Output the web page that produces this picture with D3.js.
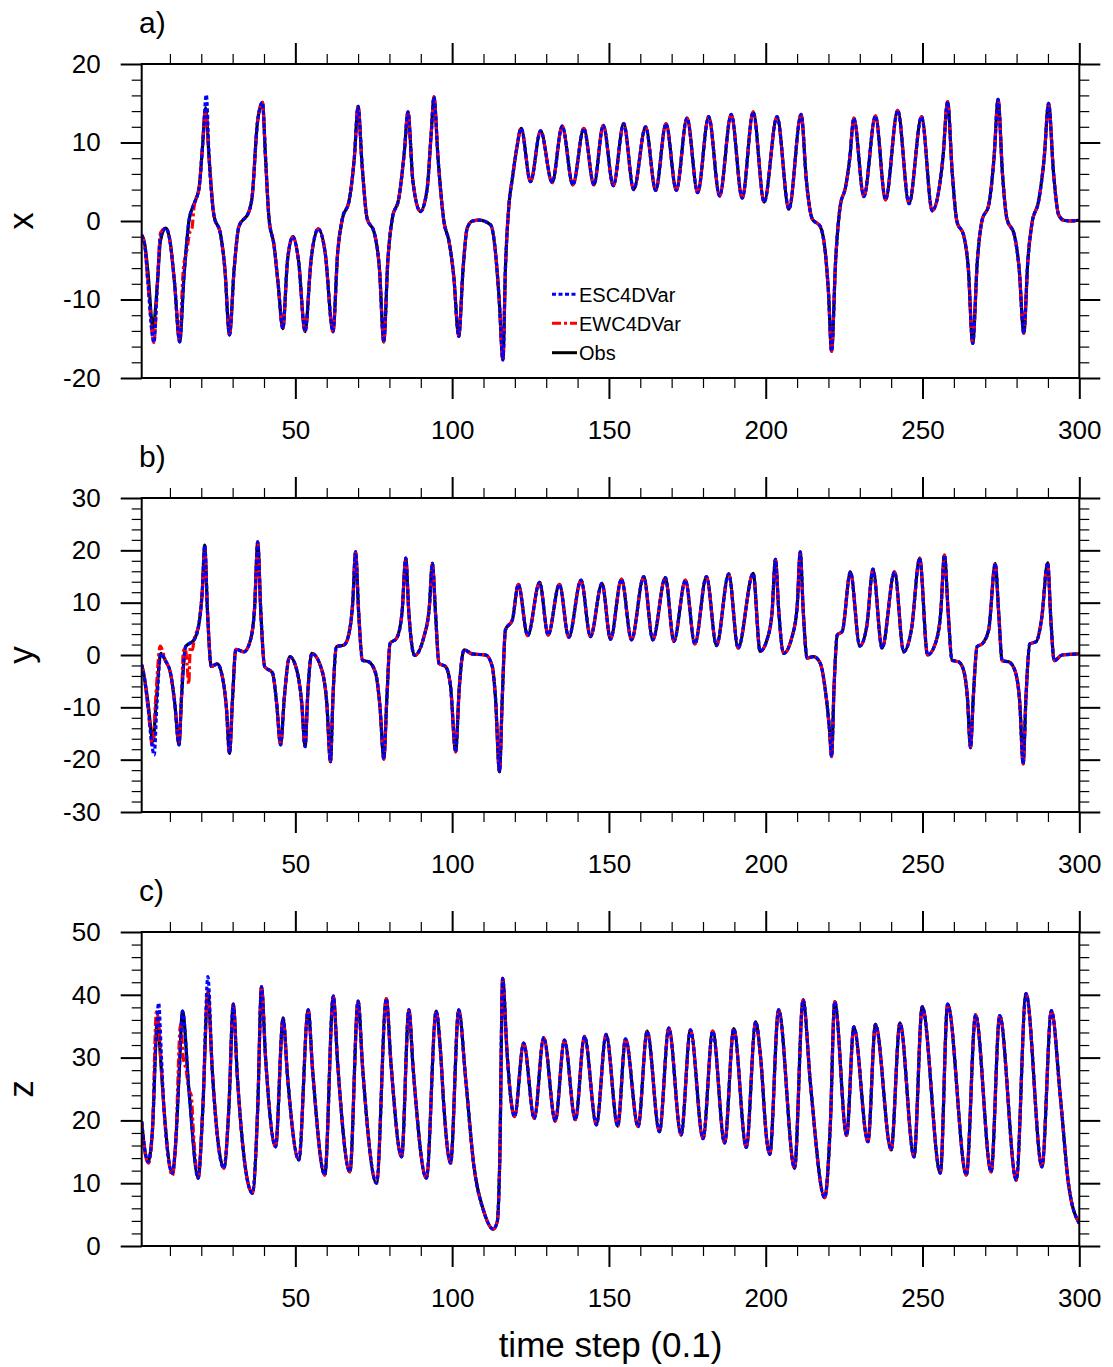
<!DOCTYPE html>
<html>
<head>
<meta charset="utf-8">
<script src="https://cdn.jsdelivr.net/npm/d3@7"></script>
<style>
  html, body { margin: 0; padding: 0; background: #fff; }
  svg { display: block; font-family: "Liberation Sans", Arial, Helvetica, sans-serif; }
</style>
</head>
<body>
<svg id="chart" width="1113" height="1367"></svg>
<script>
// ---------------- DATA ----------------
const panelLabels = ["a)", "b)", "c)"];
const varNames = ["x", "y", "z"];
const xDomain = [1, 300];
const xMajorTicks = [50, 100, 150, 200, 250, 300];
const yDomains = [[-20, 20], [-30, 30], [0, 50]];
const yMajorTicks = [[-20, -10, 0, 10, 20], [-30, -20, -10, 0, 10, 20, 30], [0, 10, 20, 30, 40, 50]];
const seriesNames = ["ESC4DVar", "EWC4DVar", "Obs"];
const xTitle = "time step (0.1)";

// Observations [time step, value]
const obsX = [[1,-1.8],[2,-3.0],[3,-6.5],[4.6,-13.7],[6,-8],[7,-2.5],[8.7,-0.9],[10,-2.5],[11.5,-8],[13.1,-15.4],[14.5,-7],[16.1,0.1],[17.5,2],[19.3,4.2],[20.3,9],[21.4,14.4],[22.5,8],[24,0.8],[26.2,-1.8],[27.5,-6],[29,-14.5],[30.5,-6],[32,-0.7],[35.2,1.2],[36.2,3],[37.9,12.5],[39.5,15.1],[40.5,8],[41.6,0.3],[43.2,-3.1],[44.5,-8],[46,-13.7],[47.5,-5],[49.2,-2.0],[51,-5],[53.1,-14.1],[55,-5],[57.3,-1.0],[59.5,-4],[62,-14.1],[63.5,-4],[65,0.3],[67.1,2.5],[68.8,8],[70,14.6],[71.3,7],[72.9,0.3],[75.1,-1.4],[76.8,-6],[78.2,-15.4],[79.5,-5],[80.9,0.3],[83,2.9],[84.8,9],[85.9,13.9],[87.5,5],[89.9,1.2],[92,4],[93.3,11],[94.2,15.8],[95.5,8],[97.4,-0.1],[99,-2.6],[100.5,-7],[102.1,-14.7],[103.5,-6],[104.8,-0.9],[106.5,0],[108.5,0.1],[112.3,-0.5],[113.8,-3.9],[115,-10],[116.2,-17.7],[117,-6],[118.1,2.0],[119.2,5.4],[120.5,9],[122,11.8],[125,5.0],[128.2,11.5],[131.9,4.9],[135.1,12.1],[138.5,4.6],[142,11.8],[145.2,4.6],[148.2,12.2],[151.4,4.5],[154.7,12.4],[157.9,4.0],[161.7,12.0],[164.9,3.9],[168.2,12.4],[171.5,3.9],[174.9,13.1],[178.3,3.6],[181.8,13.3],[185.3,3.2],[189,13.6],[192.5,2.9],[196,13.9],[199.5,2.4],[203.6,13.3],[207.4,1.5],[211.3,13.6],[213,5],[214.8,0.3],[217.4,-0.7],[219,-4],[220,-9],[221,-16.6],[222.3,-5],[223.8,2.0],[225.4,4.2],[226.8,8],[228.1,13.1],[231.3,3.1],[235,13.4],[238.2,2.7],[242.1,14.1],[245.7,2.2],[249.7,13.3],[253.1,1.3],[256.5,8],[258,15.2],[259.5,6],[261,-0.1],[263.1,-1.8],[264.6,-6],[266,-15.6],[267.5,-5],[269,0.1],[271.1,2.0],[272.8,8],[274.1,15.5],[275.5,6],[276.9,0.3],[279.3,-1.8],[280.8,-6],[282.3,-14.3],[283.6,-5],[284.9,-0.3],[287,2.5],[288.8,8],[290.2,15.0],[291.8,6],[293.4,0.8],[295,0.1],[297,0],[300,0.1]];

const obsY = [[1,-1.9],[1.8,-4.1],[3,-9],[4.6,-16.5],[5.5,-10],[7.1,0.3],[8.5,-1],[10.2,-3.5],[11.5,-9],[12.9,-17.2],[13.7,-8],[15,1.6],[17.7,2.9],[19.3,6.1],[20.3,12],[21.1,21.0],[22,8],[23.2,-2.2],[25.1,-1.7],[26.7,-4.1],[28,-10],[29,-18.8],[30,-8],[31,1.1],[33.6,0.6],[35.7,2.9],[37,9],[38,21.6],[39,8],[40.2,-2.2],[42.7,-3.4],[44,-9],[45.3,-17.2],[46.5,-8],[48.2,-0.3],[50.5,-3],[52,-9],[53.1,-17.5],[54,-7],[55.2,0.3],[58.6,-3.2],[60,-9],[61.2,-20.4],[62,-8],[63.1,1.6],[65.5,1.9],[67.1,4.1],[68.3,10],[69.2,19.7],[70.2,8],[71.4,-1.0],[73.4,-1.3],[75.6,-3.5],[77,-10],[78.2,-19.9],[79.2,-8],[80.2,2.2],[82.3,3.2],[84,8],[85.2,18.5],[86.2,8],[88,-0.1],[91,3.5],[92.7,9],[93.7,17.5],[94.7,8],[95.8,-1.6],[97.9,-2.2],[99.5,-6],[101.1,-18.5],[102.3,-6],[103.8,1.0],[106.4,0.2],[110.7,0.0],[112.8,-2.2],[113.8,-8],[115.1,-22.3],[116,-8],[117,4.8],[119.2,6.7],[121.1,13.5],[124.1,3.7],[127.9,13.9],[130.6,3.8],[134.2,13.5],[137.2,3.4],[141.1,14.3],[144.1,3.5],[147.8,13.7],[150.5,3.0],[154,14.5],[157.2,2.9],[161.1,15.0],[164,2.9],[168,14.8],[170.7,2.6],[174.4,14.3],[177.4,2.1],[181.1,15.0],[184.3,1.8],[188.2,15.5],[191.2,1.3],[196,15.6],[198.2,0.7],[200.4,2.9],[202,8],[203.1,18.3],[204.2,8],[205.7,0.3],[208.4,3.5],[210,9],[211,19.7],[212,8],[213.2,-0.6],[215.3,-0.3],[217.4,-1.6],[219,-6.7],[220.3,-14],[221,-19.4],[221.8,-6],[222.8,3.8],[224.4,4.5],[227,15.9],[230,1.7],[232.2,5.4],[234.2,16.4],[237.1,1.3],[241.1,15.9],[244,0.6],[246.5,5],[249.1,18.5],[251.6,0.0],[254.1,2.2],[255.8,8],[257,19.1],[258.2,8],[259.4,-1.0],[261.5,-1.3],[263.1,-2.9],[264.3,-8],[265.3,-17.7],[266.2,-8],[267.4,1.6],[269,2.1],[271.1,4.8],[273.2,17.5],[274.3,8],[275.4,-1.1],[277.5,-1.3],[279.6,-3.2],[281,-9],[282.1,-20.8],[283,-8],[284.2,2.1],[286.3,2.6],[288,7],[289.9,17.6],[291,6],[292,-1.1],[294.5,0.0],[300,0.2]];

const obsZ = [[1,19.8],[1.9,15.6],[3,13.4],[4.4,18.2],[6,36],[7,30],[8.1,21.9],[10.8,11.6],[11.8,16.1],[13,28],[14,37.4],[16.1,24.6],[19,10.8],[20.5,22],[22.1,40.5],[23.5,28],[27.2,12.4],[28.8,22],[30.2,38.5],[31.5,27],[36.3,8.4],[38,22],[39.2,41.3],[40.5,30],[43.7,15.8],[46.1,36.3],[47.5,27],[51.1,13.7],[54.1,37.6],[55.5,28],[59.4,11.3],[62.1,39.8],[63.5,29],[67.4,11.8],[70,39.0],[71.5,28],[75.9,10.0],[79,39.4],[80.5,29],[83.9,14.2],[86.2,37.6],[87.6,28],[91.8,10.8],[94.9,37.4],[96.3,30.9],[97.4,21.9],[99.5,13.2],[102.1,37.6],[104.3,26.7],[106.9,12.9],[110.1,5.5],[113.1,2.7],[114.4,3.9],[115.2,14],[116.1,42.6],[117.5,30.9],[118.6,24],[119.9,20.6],[122.8,32.3],[126.2,20.3],[129.2,33.2],[132.9,19.9],[135.8,32.8],[139.3,20.1],[142.2,33.4],[146,19.3],[149.1,33.7],[152.8,19.1],[155.3,33.0],[159.3,19.0],[162.2,34.2],[166.1,18.2],[169.1,34.7],[173,17.7],[176,34.4],[180,17.1],[183.1,34.2],[186.9,16.4],[189.8,34.6],[193.8,15.7],[196.8,35.7],[198.3,30.4],[200.4,16.6],[201.3,14.6],[204.1,37.6],[209.2,12.4],[211.9,39.2],[214.3,25.6],[218.8,7.7],[220.6,19.3],[222,38.9],[225.8,17.6],[228.1,34.9],[232.6,16.6],[235,35.3],[240,15.3],[242.8,35.5],[247.3,14.2],[249.9,38.1],[255.7,11.6],[258,38.5],[264,11.3],[266.9,36.8],[271.9,11.8],[274.6,36.7],[279.9,10.5],[283,40.2],[288.1,12.6],[291.1,37.5],[294,23.5],[296.6,9.7],[300,3.6]];

// Early segments where the analyses depart from the observations (later they coincide)
const escXEarly = [[1,-1.8],[2,-3.2],[3,-8],[4.9,-15.5],[6,-8],[7,-2],[8.7,-0.9],[10,-2.5],[11.5,-8],[13.1,-15.4],[14.5,-7],[16.1,0.1],[17.5,2],[19.3,4.2],[20.5,10],[21.6,16.1],[22.5,8],[24,0.8],[26.2,-1.8]];
const ewcXEarly = [[1,-1.8],[2,-3.2],[3,-8],[4.9,-15.5],[6,-8],[7,-1.5],[8.7,-0.9],[10,-2.5],[11.5,-8],[13,-15],[14.3,-6],[15.3,-4],[16.3,-1.5],[17,-1],[17.7,1.8],[19.3,4.2],[20.3,9],[21.3,14.0],[22.5,8],[24,0.8],[26.2,-1.8]];
const escYEarly = [[1,-1.9],[1.8,-4.1],[3,-10],[5,-19.1],[5.8,-10],[7.1,0.3],[8.5,-1],[10.2,-3.5]];
const ewcYEarly = [[1,-1.9],[1.8,-4.1],[3,-10],[4.5,-17.6],[5.5,-8],[6.9,1.7],[8.5,-1],[10.2,-3.5],[11.5,-9],[12.9,-16.5],[13.7,-8],[14.3,0.8],[14.9,1.2],[15.5,-2],[16,-5.5],[16.5,1.5],[17.2,1],[17.7,2.9],[19.3,6.1],[20.3,12],[21.1,20],[22,8],[23.2,-2.2]];
const escZEarly = [[1,19.8],[1.9,15.6],[3,13.4],[4.4,18.2],[5.5,32],[6.4,38.7],[7.3,30],[8.1,21.9],[10.8,11.6],[11.8,16.1],[13,28],[14,37.4],[16.1,24.6],[19,10.8],[20.5,22],[22.1,42.9],[23.5,28]];
const ewcZEarly = [[1,19.8],[2,15],[3.2,13.2],[4.4,18.2],[5.7,37.3],[6.5,35],[7.3,28],[8.1,21.9],[10.8,11.2],[11.8,16.1],[13.4,35.3],[14.3,29.9],[15.2,28],[16,25],[16.8,24],[17.5,18],[19,10.8],[20.5,22],[22.1,40.5],[23.5,28]];

// ---------------- DRAW ----------------
function joinEarly(early, base) {
  const last = early[early.length - 1][0];
  return early.concat(base.filter(d => d[0] > last));
}

const panels = [
  { obs: obsX, esc: joinEarly(escXEarly, obsX), ewc: joinEarly(ewcXEarly, obsX) },
  { obs: obsY, esc: joinEarly(escYEarly, obsY), ewc: joinEarly(ewcYEarly, obsY) },
  { obs: obsZ, esc: joinEarly(escZEarly, obsZ), ewc: joinEarly(ewcZEarly, obsZ) }
];

const svg = d3.select("#chart");
const left = 141.7, right = 1079.3, plotH = 314;
const tops = [64, 498, 932];
const x = d3.scaleLinear().domain(xDomain).range([left, right]);
const fmt = d => String(d);

const styles = {
  Obs: { color: "#000", dash: null, width: 3.2 },
  EWC4DVar: { color: "#ff0000", dash: "9,3,3,3", width: 3.2 },
  ESC4DVar: { color: "#0000ff", dash: "4,2.5", width: 3.2 }
};

const minorX = d3.range(10, 301, 10);

panels.forEach((p, i) => {
  const top = tops[i], bottom = top + plotH;
  const [y0, y1] = yDomains[i];
  const y = d3.scaleLinear().domain([y0, y1]).range([bottom, top]);
  const g = svg.append("g");
  const minorY = d3.range(y0, y1 + 0.001, 2);

  const clipId = "clip" + i;
  svg.append("clipPath").attr("id", clipId)
    .append("rect").attr("x", left).attr("y", top - 2).attr("width", right - left).attr("height", plotH + 4);

  const line = d3.line().x(d => x(d[0])).y(d => y(d[1])).curve(d3.curveMonotoneX);
  const lg = g.append("g").attr("clip-path", `url(#${clipId})`);
  [["Obs", p.obs], ["EWC4DVar", p.ewc], ["ESC4DVar", p.esc]].forEach(([name, data]) => {
    const s = styles[name];
    lg.append("path").datum(data).attr("d", line)
      .attr("fill", "none").attr("stroke", s.color).attr("stroke-width", s.width)
      .attr("stroke-dasharray", s.dash).attr("stroke-linejoin", "round");
  });

  const xMinorVals = minorX.filter(v => !xMajorTicks.includes(v));
  const yMinorVals = minorY.filter(v => !yMajorTicks[i].includes(v));
  const ax = [
    [d3.axisBottom(x).tickValues(xMinorVals).tickSize(10).tickFormat(""), `translate(0,${bottom})`, 1.2],
    [d3.axisBottom(x).tickValues(xMajorTicks).tickSize(21).tickPadding(22).tickFormat(fmt), `translate(0,${bottom})`, 2],
    [d3.axisTop(x).tickValues(xMinorVals).tickSize(10).tickFormat(""), `translate(0,${top})`, 1.2],
    [d3.axisTop(x).tickValues(xMajorTicks).tickSize(21).tickFormat(""), `translate(0,${top})`, 2],
    [d3.axisLeft(y).tickValues(yMinorVals).tickSize(10).tickFormat(""), `translate(${left},0)`, 1.2],
    [d3.axisLeft(y).tickValues(yMajorTicks[i]).tickSize(21).tickPadding(20).tickFormat(fmt), `translate(${left},0)`, 2],
    [d3.axisRight(y).tickValues(yMinorVals).tickSize(10).tickFormat(""), `translate(${right},0)`, 1.2],
    [d3.axisRight(y).tickValues(yMajorTicks[i]).tickSize(21).tickFormat(""), `translate(${right},0)`, 2]
  ];
  ax.forEach(([axis, tr, w]) => {
    const a = g.append("g").attr("transform", tr).call(axis);
    a.select(".domain").remove();
    a.selectAll(".tick line").attr("stroke", "#000").attr("stroke-width", w);
    a.selectAll(".tick text").attr("fill", "#000").attr("font-size", 26)
      .attr("font-family", "'Liberation Sans', Arial, Helvetica, sans-serif");
  });

  g.append("rect").attr("x", left).attr("y", top).attr("width", right - left).attr("height", plotH)
    .attr("fill", "none").attr("stroke", "#000").attr("stroke-width", 2);

  g.append("text").attr("transform", `translate(33,${(top + bottom) / 2}) rotate(-90)`)
    .attr("text-anchor", "middle").attr("font-size", 35).text(varNames[i]);

  g.append("text").attr("x", 139).attr("y", top - 31).attr("font-size", 30).text(panelLabels[i]);

  if (i === 0) {
    const legY = [294.3, 323.3, 352.7];
    seriesNames.forEach((name, k) => {
      const s = styles[name];
      g.append("line").attr("x1", 552).attr("x2", 577).attr("y1", legY[k]).attr("y2", legY[k])
        .attr("stroke", s.color).attr("stroke-width", 3).attr("stroke-dasharray", s.dash);
      g.append("text").attr("x", 579).attr("y", legY[k] + 7.5).attr("font-size", 20).text(name);
    });
  }
});

svg.append("text").attr("x", (left + right) / 2).attr("y", 1357).attr("text-anchor", "middle")
  .attr("font-size", 35).text(xTitle);
</script>
</body>
</html>
